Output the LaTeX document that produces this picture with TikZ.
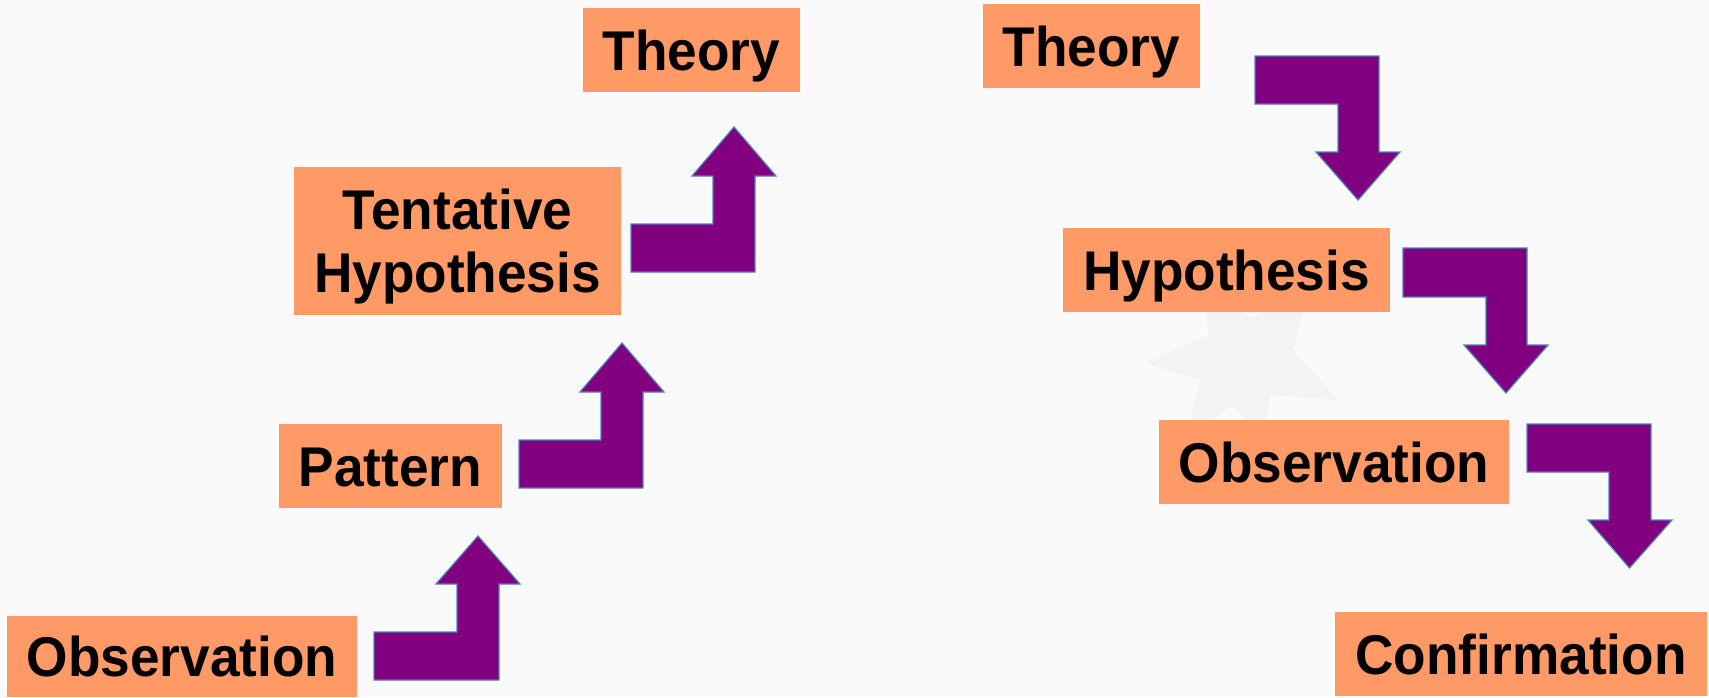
\documentclass[tikz,border=0pt]{standalone}
\usepackage{fontspec}
\setmainfont{Liberation Sans}[FakeStretch=0.95]
\definecolor{bgc}{HTML}{FAFAFA}
\definecolor{starc}{HTML}{F3F3F3}
\definecolor{boxc}{HTML}{FF9966}
\definecolor{arrc}{HTML}{800080}
\definecolor{arrline}{HTML}{4F81BD}
\begin{document}
\begin{tikzpicture}[x=1pt,y=-1pt,
  lbl/.style={fill=boxc, inner sep=0pt, align=center,
    font=\fontsize{56}{63}\selectfont\bfseries, text=black,
    text height=40pt, text depth=0pt},
  blockarrow/.style={fill=arrc, draw=arrline, line width=1.2pt, line join=miter}]
\fill[bgc] (0,0) rectangle (1709,697);
\useasboundingbox (0,0) rectangle (1709,697);
% faint watermark star
\fill[starc] (1145,363) -- (1208,335) -- (1205,290) -- (1250,318) -- (1310,290) -- (1293,350)
  -- (1338,400) -- (1270,395) -- (1263,440) -- (1232,405) -- (1185,440) -- (1200,380) -- cycle;
% boxes
\node[lbl, minimum width=350pt, minimum height=81pt] (obs1) at (182,656.5) {Observation};
\node[lbl, minimum width=223pt, minimum height=84pt] (pat) at (390.5,466) {Pattern};
\node[lbl, minimum width=327pt, minimum height=148pt, text height=103pt] (tent) at (457.5,241) {Tentative\\Hypothesis};
\node[lbl, minimum width=217pt, minimum height=84pt] (theo1) at (691.5,50) {Theory};
\node[lbl, minimum width=217pt, minimum height=84pt] (theo2) at (1091.5,46) {Theory};
\node[lbl, minimum width=327pt, minimum height=84pt] (hyp) at (1226.5,270) {Hypothesis};
\node[lbl, minimum width=350pt, minimum height=84pt] (obs2) at (1334,462) {Observation};
\node[lbl, minimum width=372pt, minimum height=84pt] (conf) at (1521,654) {Confirmation};
% up arrows
\draw[blockarrow] (374,632) -- (457,632) -- (457,584) -- (436,584) -- (478,536) -- (520,584) -- (499,584) -- (499,680) -- (374,680) -- cycle;
\draw[blockarrow] (519,440) -- (601,440) -- (601,392) -- (580,392) -- (622,343) -- (664,392) -- (643,392) -- (643,488) -- (519,488) -- cycle;
\draw[blockarrow] (631,224) -- (713,224) -- (713,176) -- (692,176) -- (734,127) -- (776,176) -- (755,176) -- (755,272) -- (631,272) -- cycle;
% down arrows
\draw[blockarrow] (1255,56) -- (1379,56) -- (1379,152) -- (1400,152) -- (1358,200) -- (1316,152) -- (1338,152) -- (1338,104) -- (1255,104) -- cycle;
\draw[blockarrow] (1403,248) -- (1527,248) -- (1527,345) -- (1548,345) -- (1506,393) -- (1464,345) -- (1486,345) -- (1486,297) -- (1403,297) -- cycle;
\draw[blockarrow] (1527,424) -- (1651,424) -- (1651,520) -- (1672,520) -- (1629.5,568) -- (1588,520) -- (1609,520) -- (1609,472) -- (1527,472) -- cycle;
\end{tikzpicture}
\end{document}
